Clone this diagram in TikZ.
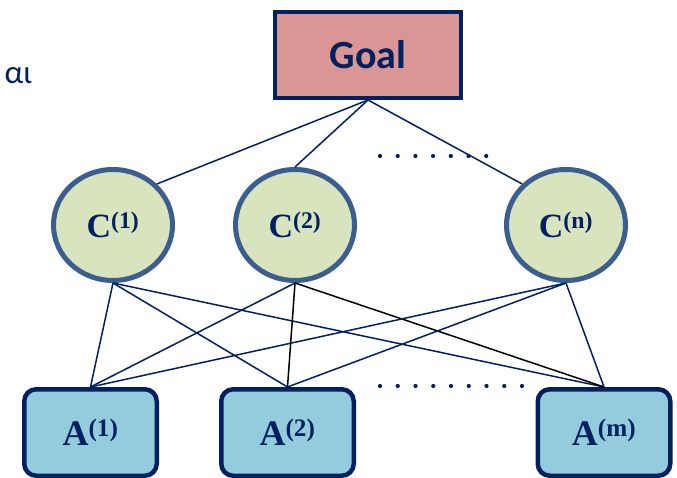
\documentclass[tikz,border=0pt]{standalone}
\usepackage{fontspec}
\setmainfont{Liberation Serif}
\newfontfamily\calibri{Carlito}
\usepackage{tikz}
\usetikzlibrary{shapes,positioning,shadows,calc}

\definecolor{navy}{HTML}{002060}
\definecolor{goalred}{HTML}{D99694}
\definecolor{critgreen}{HTML}{D7E4BD}
\definecolor{critline}{HTML}{3B5E8F}
\definecolor{altblue}{HTML}{93CDDD}

\begin{document}
\begin{tikzpicture}[x=1pt,y=-1pt,
    goalbox/.style={rectangle,draw=navy,line width=4pt,fill=goalred,
      minimum width=186pt,minimum height=86pt,inner sep=0pt,
      drop shadow={opacity=0.25,shadow xshift=2pt,shadow yshift=-2pt}},
    crit/.style={ellipse,draw=critline,line width=5pt,fill=critgreen,
      minimum width=119pt,minimum height=111pt,inner sep=0pt},
    alt/.style={rectangle,rounded corners=12pt,draw=navy,line width=4.5pt,
      fill=altblue,minimum width=132.5pt,minimum height=86.5pt,inner sep=0pt},
    clab/.style={text=navy,font=\fontsize{34}{41}\selectfont\bfseries},
    alab/.style={text=navy,font=\fontsize{36}{43}\selectfont\bfseries},
    link/.style={draw=navy,line width=1.5pt},
    blink/.style={draw=black,line width=1.5pt}]
      \useasboundingbox (0,0) rectangle (677,478);

      \node[text=navy,anchor=west,font=\calibri\fontsize{33}{39}\selectfont] (greek) at (1,76) {αι};

      \node[goalbox] (goal) at (368,55) {};
      \node[text=navy,font=\calibri\bfseries\fontsize{40}{48}\selectfont] at (goal) {Goal};

      \node[crit] (c1) at (113,225) {};
      \node[crit] (c2) at (295,225) {};
      \node[crit] (cn) at (566,225) {};
      \node[clab] at (c1) {C\textsuperscript{(1)}};
      \node[clab] at (c2) {C\textsuperscript{(2)}};
      \node[clab] at (cn) {C\textsuperscript{(n)}};

      \node[alt] (a1) at (90.5,432.5) {};
      \node[alt] (a2) at (287.5,432.5) {};
      \node[alt] (am) at (604,432.5) {};
      \node[alab] at (a1) {A\textsuperscript{(1)}};
      \node[alab] at (a2) {A\textsuperscript{(2)}};
      \node[alab] at (am) {A\textsuperscript{(m)}};

      \draw[link] (goal.south) -- (c1.north east);
      \draw[link] (goal.south) -- (c2.north);
      \draw[link] (goal.south) -- (cn.north west);

      \draw[link] (c1.south) -- (a1.north);
      \draw[link] (c1.south) -- (a2.north);
      \draw[link] (c1.south) -- (am.north);
      \draw[link] (c2.south) -- (a1.north);
      \draw[blink] (c2.south) -- (a2.north);
      \draw[blink] (c2.south) -- (am.north);
      \draw[link] (cn.south) -- (a1.north);
      \draw[link] (cn.south) -- (a2.north);
      \draw[link] (cn.south) -- (am.north);

      \foreach \i in {0,...,6}
        \fill[navy] (380+17.7*\i,156) circle (2.1pt);
      \foreach \i in {0,...,8}
        \fill[navy] (380+17.75*\i,386) circle (2.1pt);
\end{tikzpicture}
\end{document}
